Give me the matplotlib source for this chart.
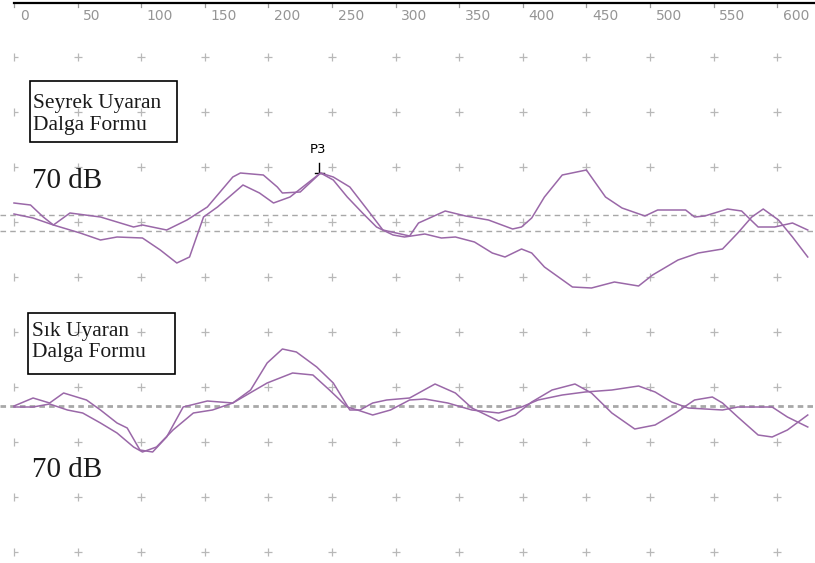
import matplotlib.pyplot as plt
import numpy as np

# latency (ms) and amplitude (arbitrary units, + = up)
seyrek_lat_1 = [0, 13, 23, 31, 44, 68, 94, 101, 120, 136, 152, 172, 178, 196, 207, 211, 225, 241, 251, 264, 278,
                290, 311, 318, 339, 355, 373, 392, 399, 407, 417, 431, 450, 465, 478, 496, 506, 528, 535, 543, 561,
                572, 585, 598, 612, 624]
seyrek_amp_1 = [19, 17, 5, -3, 9, 5, -5, -3, -8, 2, 15, 45, 49, 47, 35, 29, 30, 49, 45, 35, 12,
                -8, -14, -1, 11, 6, 2, -7, -5, 4, 25, 47, 52, 25, 14, 6, 12, 12, 5, 6, 13,
                11, -5, -5, -1, -8]
seyrek_lat_2 = [0, 15, 31, 52, 68, 81, 101, 115, 128, 138, 149, 160, 180, 193, 204, 217, 241, 251, 262, 274, 285,
                298, 307, 323, 336, 347, 362, 376, 386, 399, 407, 417, 428, 439, 454, 472, 491, 502, 522, 538, 557,
                569, 580, 589, 601, 612, 624]
seyrek_amp_2 = [8, 4, -3, -11, -18, -15, -16, -28, -41, -35, 5, 15, 37, 29, 19, 25, 49, 42, 25, 9, -5,
                -13, -15, -12, -16, -15, -20, -31, -35, -27, -31, -45, -55, -65, -66, -60, -64, -53, -38, -31, -27,
                -11, 5, 13, 2, -15, -35]

sik_lat_1 = [0, 15, 28, 39, 57, 68, 81, 89, 99, 109, 120, 133, 152, 172, 186, 199, 211, 222, 238, 251, 264, 272,
             282, 293, 311, 331, 347, 360, 381, 394, 407, 423, 441, 454, 470, 488, 504, 520, 535, 549, 557, 569,
             585, 596, 608, 624]
sik_amp_1 = [0, 8, 3, 13, 6, -4, -17, -22, -44, -46, -31, -1, 5, 3, 16, 43, 57, 54, 39, 23, -4, -4,
             3, 6, 8, 22, 13, -2, -15, -9, 4, 16, 22, 13, -7, -23, -19, -7, 6, 9, 3, -11,
             -29, -31, -24, -9]
sik_lat_2 = [0, 15, 28, 42, 54, 68, 81, 94, 101, 112, 125, 141, 156, 172, 199, 219, 235, 248, 262, 270, 282,
             296, 311, 323, 341, 360, 381, 399, 412, 431, 449, 470, 491, 504, 517, 530, 557, 569, 596, 608, 624]
sik_amp_2 = [-1, -1, 2, -4, -7, -17, -27, -41, -46, -41, -24, -7, -4, 3, 23, 33, 31, 16, -1, -4, -9,
             -4, 6, 7, 3, -4, -7, -1, 6, 11, 14, 16, 20, 14, 4, -2, -4, -1, -1, -11, -21]

tick_values = list(range(0, 601, 50))
p3_latency = 240
p3_amp = 49
level_text = "70 dB"

purple = '#9a68a8'
grey = '#a8a8a8'
serif = ['Liberation Serif', 'DejaVu Serif']

fig = plt.figure(figsize=(8.15, 5.63), dpi=100)
ax = fig.add_axes([0, 0, 1, 1])
ax.set_xlim(-11, 629.7)
ax.set_ylim(0, 563)
ax.axis('off')

top_base = 341
low_base = 157

# grid crosses (first column is cut in half at the left edge)
rows = 506 - 55 * np.arange(10)
gx, gy = np.meshgrid(np.array(tick_values[1:]), rows)
ax.plot(gx.ravel(), gy.ravel(), '+', color='#b8b8b8', ms=5.5, mew=0.9, zorder=1)
ax.plot(np.zeros(len(rows)), rows, '|', color='#b8b8b8', ms=5.5, mew=0.9, zorder=1)
ax.plot(np.zeros(len(rows)), rows, marker=1, ls='none', color='#b8b8b8', ms=2.75, mew=0.9, zorder=1)

# baselines
ax.axhline(top_base + 7, color=grey, lw=1, dashes=(4, 3), zorder=2)
ax.axhline(top_base - 9, color=grey, lw=1, dashes=(4, 3), zorder=2)
ax.axhline(low_base, color=grey, lw=2, dashes=(2, 1.5), zorder=2)

# traces
ax.plot(seyrek_lat_1, top_base + np.array(seyrek_amp_1), color=purple, lw=1.1, zorder=3)
ax.plot(seyrek_lat_2, top_base + np.array(seyrek_amp_2), color=purple, lw=1.1, zorder=3)
ax.plot(sik_lat_1, low_base + np.array(sik_amp_1), color=purple, lw=1.1, zorder=3)
ax.plot(sik_lat_2, low_base + np.array(sik_amp_2), color=purple, lw=1.1, zorder=3)

# top axis
ax.plot([0, 629.7], [560, 560], color='black', lw=1.6, zorder=4)
for t in tick_values:
    ax.plot([t, t], [560, 556], color='#999999', lw=0.9)
    ax.text(t + 4.5, 547, str(t), color='#959595', fontsize=10, va='center', ha='left')

# P3 marker
py = top_base + p3_amp
ax.plot([p3_latency, p3_latency], [py, py + 10], color='black', lw=1)
ax.plot([p3_latency - 3.5, p3_latency + 3.5], [py, py], color='black', lw=1)
ax.text(p3_latency - 1, py + 17, 'P3', fontsize=9.5, ha='center', va='bottom')

# label boxes
ax.add_patch(plt.Rectangle((12.6, 421), 115.5, 61, fill=False, ec='black', lw=1.2))
ax.text(15, 455, 'Seyrek Uyaran', family=serif, fontsize=15.5, color='#1a1a1a', va='baseline')
ax.text(15, 433, 'Dalga Formu', family=serif, fontsize=15.5, color='#1a1a1a', va='baseline')
ax.add_patch(plt.Rectangle((11, 189), 115.6, 61, fill=False, ec='black', lw=1.2))
ax.text(14, 227, 'Sık Uyaran', family=serif, fontsize=15.5, color='#1a1a1a', va='baseline')
ax.text(14, 206, 'Dalga Formu', family=serif, fontsize=15.5, color='#1a1a1a', va='baseline')

ax.text(14, 375, level_text, family=serif, fontsize=21, color='#1a1a1a', va='baseline')
ax.text(14, 86, level_text, family=serif, fontsize=21, color='#1a1a1a', va='baseline')

fig.savefig('out.png', dpi=100, facecolor='white')
